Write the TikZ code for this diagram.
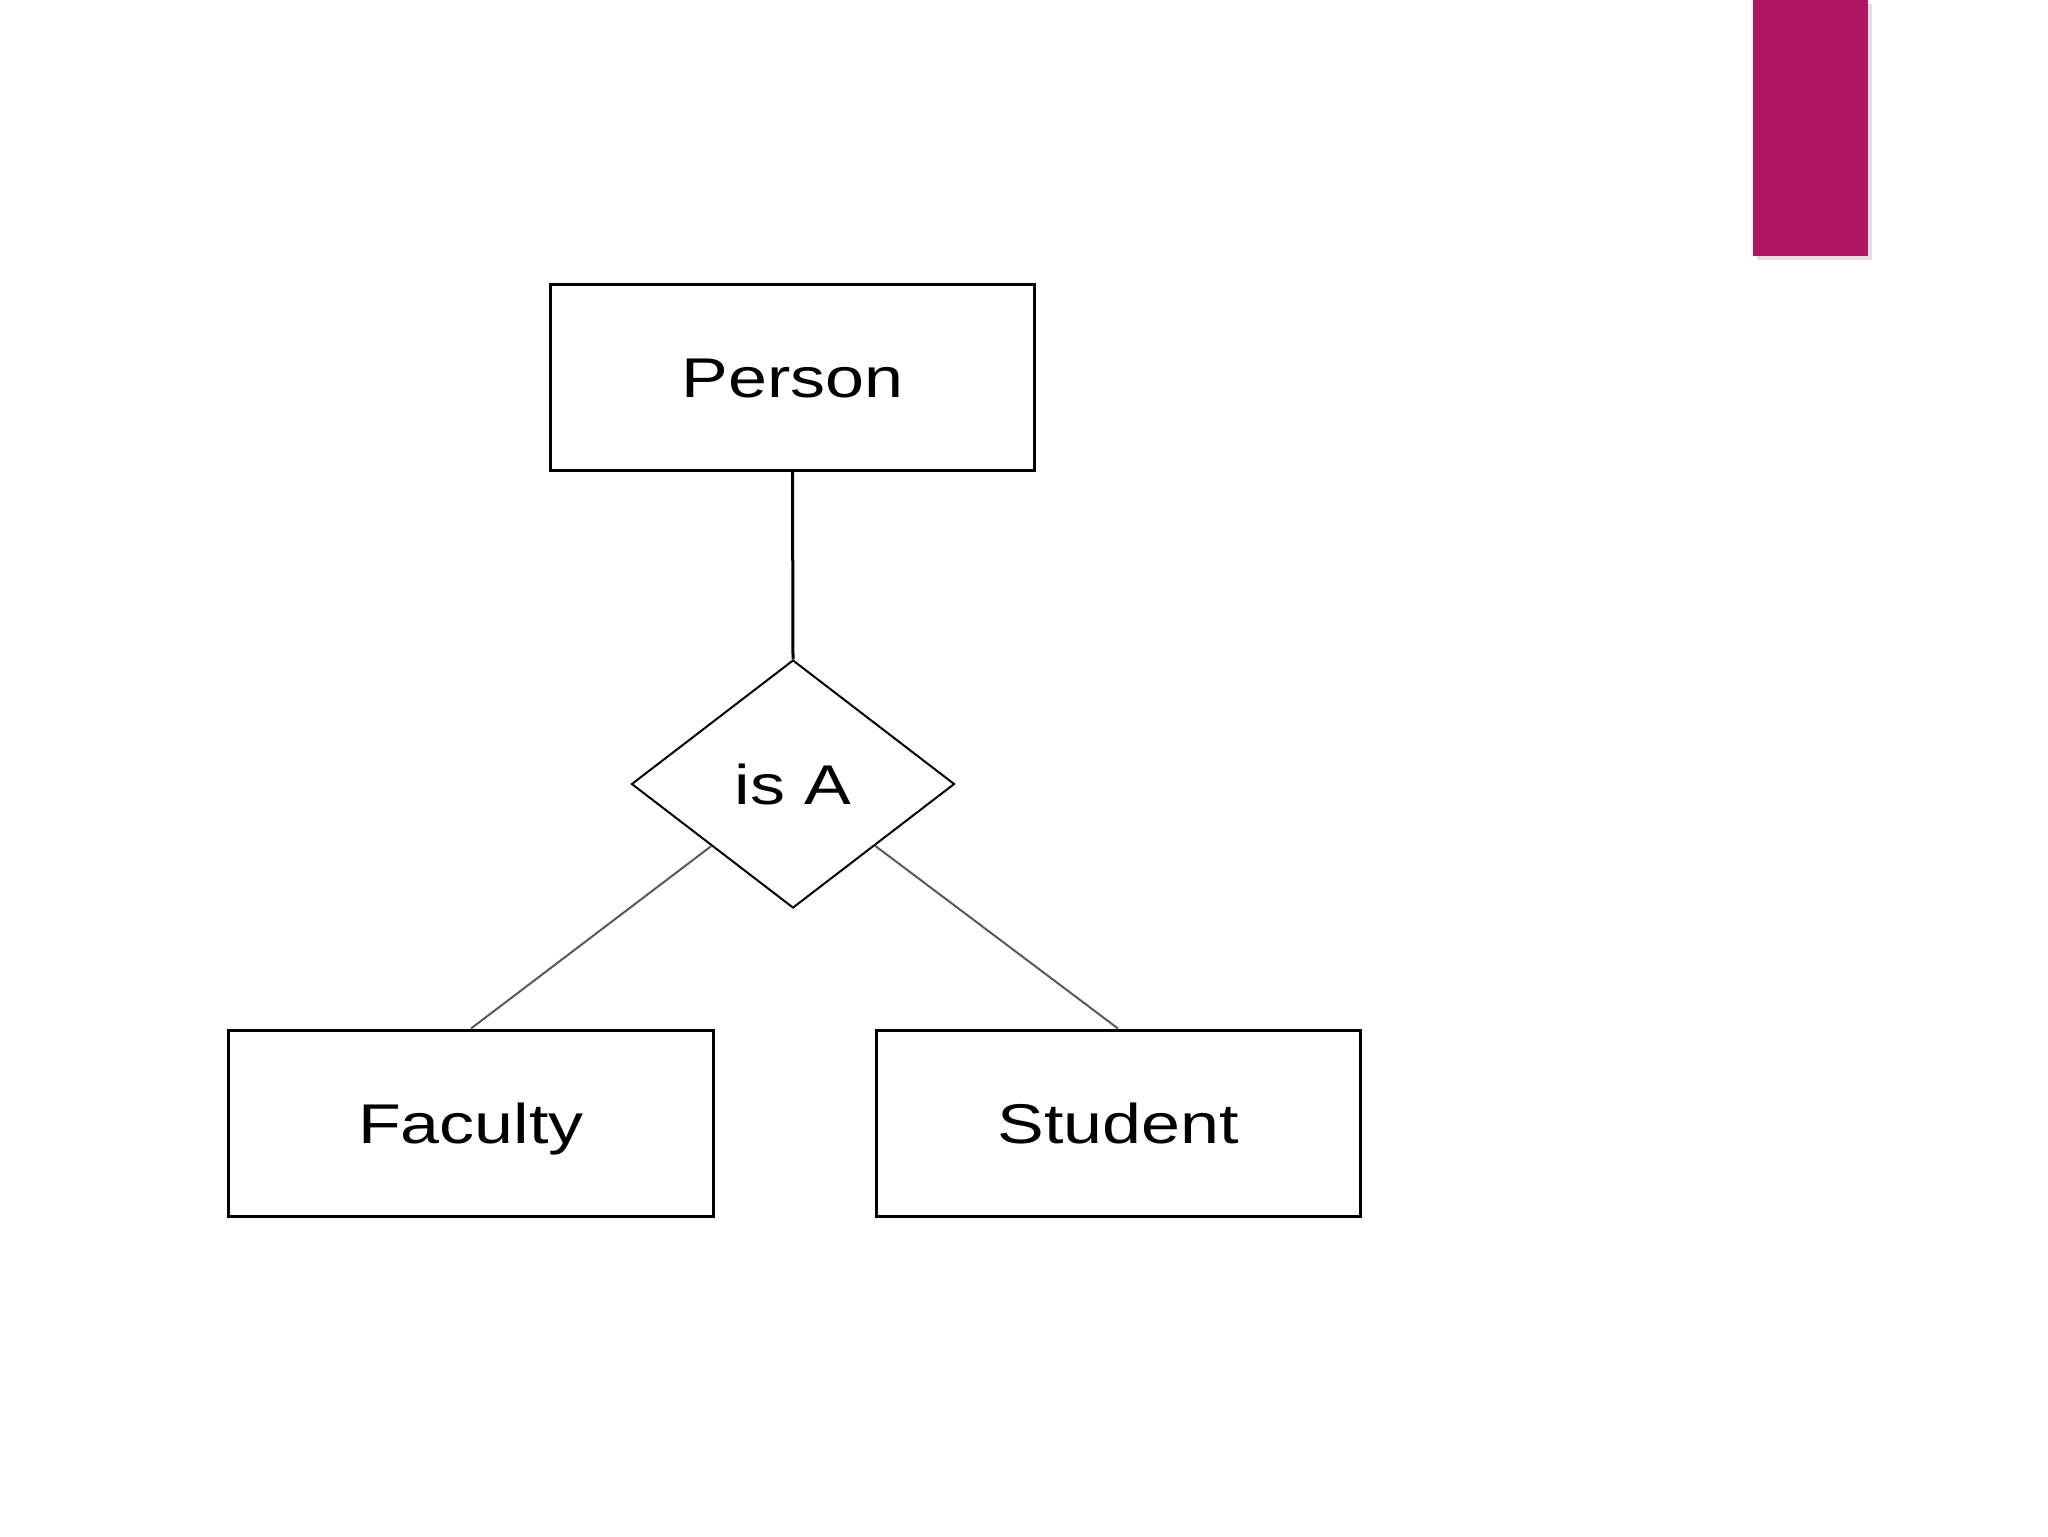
\documentclass[tikz,border=0pt]{standalone}
\usepackage{fontspec}
\setmainfont{Liberation Sans}
\usetikzlibrary{shapes.geometric}
\definecolor{barmag}{RGB}{176,20,98}
\begin{document}
\begin{tikzpicture}[x=0.5bp,y=-0.5bp,
  entity/.style={draw=black,line width=1.5bp,rectangle,inner sep=0pt,
    minimum width=242bp,minimum height=93bp,text height=20bp,text depth=0pt,
    font=\fontsize{28bp}{32bp}\selectfont},
  relship/.style={draw=black,line width=1bp,diamond,inner sep=0pt,aspect=1.3,
    minimum width=161.5bp,minimum height=124bp,text height=20bp,text depth=0pt,
    font=\fontsize{28bp}{32bp}\selectfont},
  link/.style={line width=1bp,draw=black!65}]
\useasboundingbox (0,0) rectangle (2048,1536);
\fill[white] (0,0) rectangle (2048,1536);
\fill[black!12] (1757,4) rectangle (1872,260);
\fill[barmag] (1753,0) rectangle (1868,256);
\node[entity] (person) at (792.5,377) {\scalebox{1.25}[1]{Person}};
\node[relship] (isa) at (793,784) {\scalebox{1.25}[1]{is A}};
\node[entity] (faculty) at (471,1123) {\scalebox{1.25}[1]{Faculty}};
\node[entity] (student) at (1118,1123) {\scalebox{1.25}[1]{Student}};
\draw[line width=1.5bp] (person.south) -- (isa.north);
\draw[link] (isa) -- (faculty.north);
\draw[link] (isa) -- (student.north);
\end{tikzpicture}
\end{document}
